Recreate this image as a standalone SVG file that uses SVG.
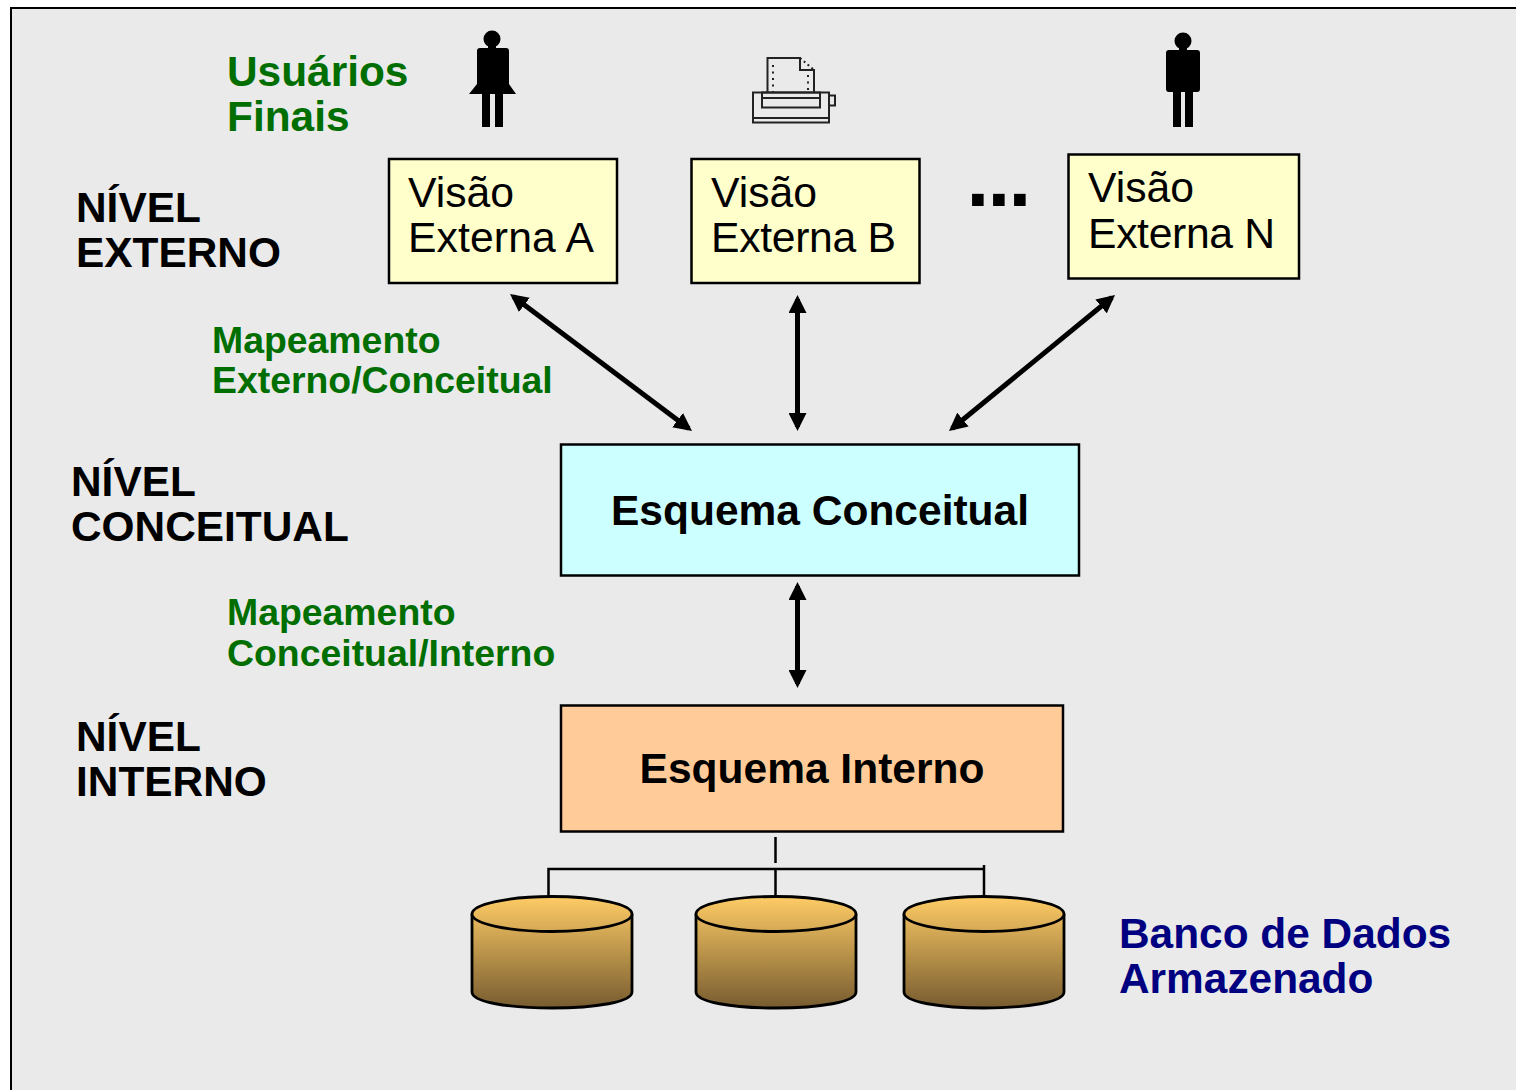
<svg xmlns="http://www.w3.org/2000/svg" width="1516" height="1090" viewBox="0 0 1516 1090">
<style>
text{font-family:"Liberation Sans",Arial,sans-serif}
.lvl{font-size:42.4px;font-weight:700;fill:#000}
.grn{font-weight:700;fill:#006e00}
.map{font-size:37.4px}
.usr{font-size:42.4px}
.vis{font-size:42.7px;fill:#000}
.big{font-size:42.5px;font-weight:700;fill:#000;text-anchor:middle}
.blu{font-size:42.4px;font-weight:700;fill:#000080}
.box{stroke:#000;stroke-width:2.5}
.con{fill:none;stroke:#000;stroke-width:5}
.thin{fill:none;stroke:#000;stroke-width:2.5}
.cyl{stroke:#000;stroke-width:2.8;fill:url(#cylg)}
.pr{fill:none;stroke:#222;stroke-width:2}
</style>
<defs>
<linearGradient id="cylg" gradientUnits="userSpaceOnUse" x1="0" y1="896" x2="0" y2="1008"><stop offset="0" stop-color="#ffcc66"/><stop offset="1" stop-color="#775c30"/></linearGradient>
<marker id="ah" viewBox="0 0 18 18" refX="14" refY="9" markerWidth="18" markerHeight="18" markerUnits="userSpaceOnUse" orient="auto-start-reverse"><path d="M0,0L18,9L0,18Z" fill="#000"/></marker>
</defs>
<rect x="11" y="8" width="1510" height="1090" fill="#eaeaea" stroke="#000" stroke-width="2"/>

<g id="connectors">
<path class="con" d="M513.200,296.400L688.800,428.600" marker-start="url(#ah)" marker-end="url(#ah)"/>
<path class="con" d="M797.500,299V427" marker-start="url(#ah)" marker-end="url(#ah)"/>
<path class="con" d="M1111.900,297.500L952.100,428.500" marker-start="url(#ah)" marker-end="url(#ah)"/>
<path class="con" d="M797.500,586V684" marker-start="url(#ah)" marker-end="url(#ah)"/>
<path class="thin" d="M775.500,837V863"/>
<path class="thin" d="M548.500,897V869H984M775.500,870V897M984,865V897"/>
</g>

<g id="usuarios-finais"><text class="grn usr" x="227" y="86">Usuários</text><text class="grn usr" x="227" y="131">Finais</text></g>

<g id="usuario-a">
<circle cx="492" cy="39" r="8.500"/>
<path d="M488,46h8v2h10a3,3 0 0 1 3,3V84L516,94H503V127H495V94H490V127H482V94H469L477,84V51a3,3 0 0 1 3,-3h8Z"/>
</g>

<g id="impressora">
<path class="pr" d="M767.500,93V58H800V70H814V93"/>
<path d="M800,58L814,70" fill="none" stroke="#222" stroke-width="2" stroke-dasharray="2 3"/>
<path d="M773,65v28M808,75v18" fill="none" stroke="#222" stroke-width="2" stroke-dasharray="2 4.500"/>
<rect class="pr" x="753" y="92.500" width="76" height="30"/>
<rect class="pr" x="762" y="92.500" width="58" height="15"/>
<path class="pr" d="M762,98H820M753,118H829M829,95.500h6v10h-6"/>
</g>

<g id="usuario-n">
<circle cx="1183" cy="41" r="8.500"/>
<path d="M1179,48h8v2h10a3,3 0 0 1 3,3v36a3,3 0 0 1 -3,3H1193V127H1185V92H1181V127H1173V92H1169a3,3 0 0 1 -3,-3V53a3,3 0 0 1 3,-3h10Z"/>
</g>

<g id="nivel-externo"><text class="lvl" x="76" y="222">NÍVEL</text><text class="lvl" x="76" y="267">EXTERNO</text></g>
<g id="nivel-conceitual"><text class="lvl" x="71" y="496">NÍVEL</text><text class="lvl" x="71" y="541">CONCEITUAL</text></g>
<g id="nivel-interno"><text class="lvl" x="76" y="751">NÍVEL</text><text class="lvl" x="76" y="796">INTERNO</text></g>

<g id="mapeamento-ec"><text class="grn map" x="212" y="353">Mapeamento</text><text class="grn map" x="212" y="393">Externo/Conceitual</text></g>
<g id="mapeamento-ci"><text class="grn map" x="227" y="625">Mapeamento</text><text class="grn map" x="227" y="666">Conceitual/Interno</text></g>

<g id="visao-a"><rect class="box" x="389" y="159" width="228" height="124" fill="#ffffcc"/><text class="vis" x="408" y="207">Visão</text><text class="vis" x="408" y="252" textLength="186">Externa A</text></g>
<g id="visao-b"><rect class="box" x="691.500" y="159" width="228" height="124" fill="#ffffcc"/><text class="vis" x="711" y="207">Visão</text><text class="vis" x="711" y="252" textLength="185">Externa B</text></g>
<g id="reticencias"><text x="966.500" y="206" font-size="82" font-weight="700" letter-spacing="-1.800" fill="#000">...</text></g>
<g id="visao-n"><rect class="box" x="1068.500" y="154.500" width="230.500" height="124" fill="#ffffcc"/><text class="vis" x="1088" y="202">Visão</text><text class="vis" x="1088" y="248" textLength="187">Externa N</text></g>

<g id="esquema-conceitual"><rect class="box" x="561" y="444.500" width="518" height="131" fill="#ccffff"/><text class="big" x="820" y="525">Esquema Conceitual</text></g>
<g id="esquema-interno"><rect class="box" x="561" y="705.500" width="502" height="126" fill="#ffcc99"/><text class="big" x="812" y="783">Esquema Interno</text></g>

<g id="bd-1"><path class="cyl" d="M472,914V992C472,1002 508,1008 552,1008S632,1002 632,992V914"/><ellipse class="cyl" cx="552" cy="914" rx="80" ry="17.500"/></g>
<g id="bd-2"><path class="cyl" d="M696,914V992C696,1002 732,1008 776,1008S856,1002 856,992V914"/><ellipse class="cyl" cx="776" cy="914" rx="80" ry="17.500"/></g>
<g id="bd-3"><path class="cyl" d="M904,914V992C904,1002 940,1008 984,1008S1064,1002 1064,992V914"/><ellipse class="cyl" cx="984" cy="914" rx="80" ry="17.500"/></g>

<g id="banco-de-dados"><text class="blu" x="1119" y="948">Banco de Dados</text><text class="blu" x="1119" y="993">Armazenado</text></g>
</svg>
